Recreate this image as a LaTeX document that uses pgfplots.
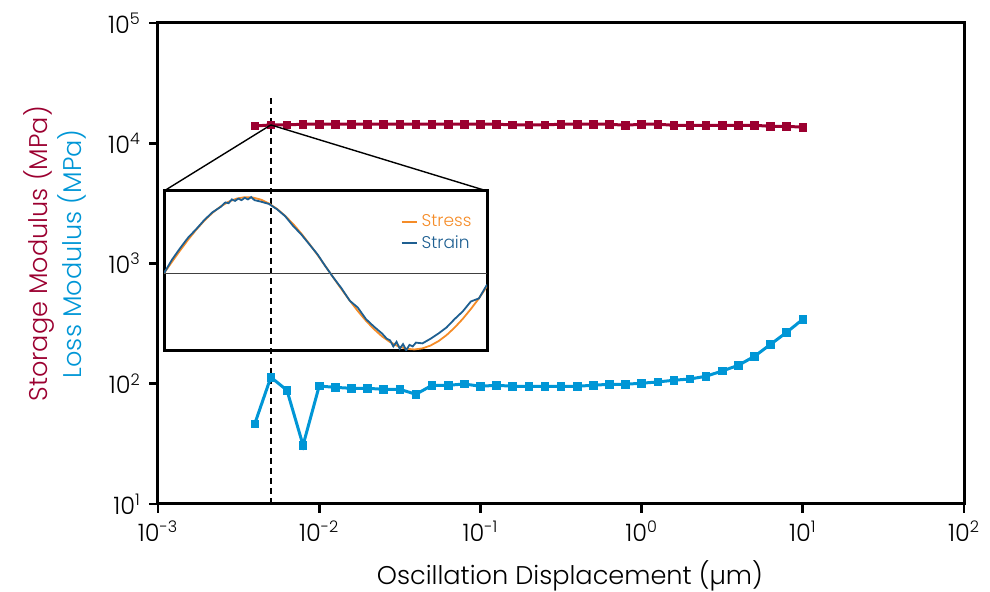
\documentclass[border=0pt]{standalone}
\usepackage{fontspec}
\IfFontExistsTF{Poppins Light}{\setmainfont{Poppins Light}}{\setmainfont{Poppins}}
\usepackage{pgfplots}
\usepackage{pgfplotstable}
\pgfplotsset{compat=1.18}
\definecolor{sred}{RGB}{155,0,48}
\definecolor{lblue}{RGB}{0,150,214}
\definecolor{iorange}{RGB}{245,140,40}
\definecolor{iblue}{RGB}{30,95,145}

\pgfplotstableread{
x g1 g2
0.003981 13900 46.3
0.005012 14200 113.3
0.006310 14200 88.3
0.007943 14400 30.8
0.01 14400 95.7
0.012589 14400 93.3
0.015849 14400 91.6
0.019953 14400 91.6
0.025119 14400 89.9
0.031623 14400 89.9
0.039811 14400 81.7
0.050119 14400 97.1
0.063096 14400 97.1
0.079433 14400 99.5
0.1 14400 95.3
0.12589 14400 97.1
0.15849 14200 95.3
0.19953 14200 95.3
0.25119 14200 95.3
0.31623 14400 95.3
0.39811 14400 95.3
0.50119 14400 97.1
0.63096 14400 99
0.79433 14100 99
1 14400 101
1.2589 14400 103.5
1.5849 14100 106.9
1.9953 14100 109.6
2.5119 14100 115.4
3.1623 14100 127.7
3.9811 14100 142.3
5.0119 14100 169
6.3096 13830 212.6
7.9433 13830 267.7
10 13590 343.6
}\moddata

\begin{document}
\begin{tikzpicture}
\begin{axis}[
  at={(0,0)}, anchor=south west, scale only axis,
  width=403pt, height=240.5pt,
  xmode=log, ymode=log,
  xmin=1e-3, xmax=1e2, ymin=10, ymax=1e5,
  line width=1.5pt,
  axis line style={line width=1.5pt},
  tick align=outside, xtick pos=bottom, ytick pos=left,
  major tick length=4.5pt,
  tick style={line width=1.4pt, black},
  xminorticks=false, yminorticks=false,
  xtick={1e-3,1e-2,1e-1,1,10,100},
  xticklabels={10\textsuperscript{-3},10\textsuperscript{-2},10\textsuperscript{-1},10\textsuperscript{0},10\textsuperscript{1},10\textsuperscript{2}},
  ytick={10,100,1000,10000,100000},
  yticklabels={10\textsuperscript{1},10\textsuperscript{2},10\textsuperscript{3},10\textsuperscript{4},10\textsuperscript{5}},
  ticklabel style={font=\fontsize{12}{14}\selectfont},
  label style={font=\fontsize{12.8}{17}\selectfont},
  xlabel={Oscillation Displacement (µm)},
  ylabel={\textcolor{sred}{Storage Modulus (MPa)}\\\textcolor{lblue}{Loss Modulus (MPa)}},
  ylabel style={align=center, at={(axis description cs:-0.128,0.52)}, anchor=center},
  xlabel style={at={(axis description cs:0.511,-0.150)}, anchor=center},
  clip=false,
]
\draw[black, line width=0.7pt, dash pattern=on 3pt off 2pt] (axis cs:5.012e-3,10) -- (axis cs:5.012e-3,2.43e4);
\addplot[sred, line width=1.5pt, mark=square*, mark size=1.9pt, mark options={line width=0.4pt}] table[x=x,y=g1]{\moddata};
\addplot[lblue, line width=1.5pt, mark=square*, mark size=1.9pt, mark options={line width=0.4pt}] table[x=x,y=g2]{\moddata};
\coordinate (p) at (axis cs:5.012e-3,14200);
\end{axis}

\begin{axis}[
  name=inset,
  at={(3pt,76.5pt)}, anchor=south west, scale only axis,
  width=161.5pt, height=80pt,
  xmin=0, xmax=1, ymin=-1.02, ymax=1.08,
  xtick=\empty, ytick=\empty,
  line width=1.5pt,
  axis line style={line width=1.5pt},
  legend style={draw=none, fill=none, at={(0.975,0.9)}, anchor=north east,
    font=\fontsize{8.5}{9.5}\selectfont, row sep=-1pt, inner sep=1pt},
  legend cell align=left,
  legend image code/.code={\draw[#1, line width=0.9pt] (0pt,0pt) -- (7.5pt,0pt);},
]
\draw[black!75, line width=0.6pt] (axis cs:0,0) -- (axis cs:1,0);
\addplot[iorange, line width=0.9pt] coordinates {
(0,0) (0.025,0.152) (0.05,0.300) (0.075,0.442) (0.1,0.573) (0.125,0.691)
(0.15,0.793) (0.175,0.876) (0.2,0.939) (0.225,0.980) (0.25,0.999) (0.275,0.994)
(0.3,0.967) (0.325,0.916) (0.35,0.845) (0.375,0.754) (0.4,0.646) (0.425,0.522)
(0.45,0.386) (0.475,0.242) (0.5,0.092) (0.525,-0.061) (0.55,-0.212) (0.575,-0.358)
(0.6,-0.496) (0.625,-0.622) (0.65,-0.733) (0.675,-0.828) (0.7,-0.904) (0.725,-0.958)
(0.75,-0.991) (0.775,-1.000) (0.8,-0.986) (0.825,-0.949) (0.85,-0.890) (0.875,-0.811)
(0.9,-0.712) (0.925,-0.598) (0.95,-0.469) (0.975,-0.330) (1.0,-0.170)
};
\addlegendentry{\textcolor{iorange}{Stress}}
\addplot[iblue, line width=0.9pt] coordinates {
(0,0) (0.025,0.18) (0.05,0.33) (0.075,0.47) (0.1,0.58) (0.125,0.70)
(0.15,0.80) (0.175,0.87) (0.19,0.93) (0.2,0.92) (0.21,0.97) (0.22,0.95)
(0.23,0.98) (0.24,0.96) (0.25,0.99) (0.26,0.97) (0.27,1.0) (0.28,0.96)
(0.3,0.94) (0.325,0.91) (0.35,0.84) (0.375,0.75) (0.4,0.62) (0.425,0.51)
(0.45,0.38) (0.475,0.25) (0.5,0.09) (0.525,-0.06) (0.55,-0.20) (0.575,-0.36)
(0.6,-0.45) (0.625,-0.60) (0.65,-0.70) (0.675,-0.79) (0.69,-0.86) (0.7,-0.88)
(0.71,-0.96) (0.72,-0.90) (0.73,-0.99) (0.74,-0.93) (0.75,-1.01) (0.76,-0.94)
(0.77,-0.96) (0.78,-0.91) (0.8,-0.92) (0.825,-0.86) (0.85,-0.79) (0.875,-0.71)
(0.9,-0.60) (0.925,-0.50) (0.95,-0.37) (0.975,-0.33) (1.0,-0.15)
};
\addlegendentry{\textcolor{iblue}{Strain}}
\end{axis}
\draw[black, line width=0.7pt] (p) -- (inset.north west);
\draw[black, line width=0.7pt] (p) -- (inset.north east);
\pgfresetboundingbox
\path[use as bounding box] (-79pt,-44pt) rectangle (416pt,252pt);
\end{tikzpicture}
\end{document}
